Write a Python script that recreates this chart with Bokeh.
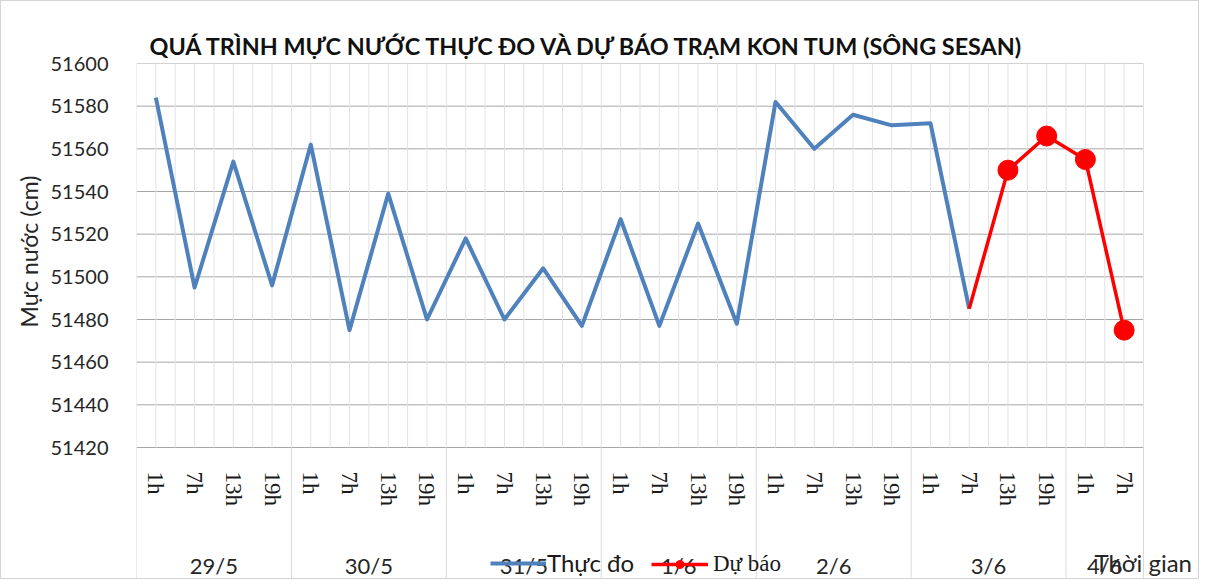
from bokeh.plotting import figure
from bokeh.models import Range1d, FixedTicker, LinearAxis, Legend, LegendItem, Label, Title
from bokeh.embed import file_html
from bokeh.resources import INLINE

# ---------------- data ----------------
days = ["29/5", "30/5", "31/5", "1/6", "2/6", "3/6", "4/6"]
hours_per_day = [["1h", "7h", "13h", "19h"]] * 6 + [["1h", "7h"]]

measured = [51584, 51495, 51554, 51496, 51562, 51475, 51539, 51480,
            51518, 51480, 51504, 51477, 51527, 51477, 51525, 51478,
            51582, 51560, 51576, 51571, 51572, 51485]
forecast = [51485, 51550, 51566, 51555, 51475]

y_ticks = [51420, 51440, 51460, 51480, 51500, 51520, 51540, 51560, 51580, 51600]

title_text = "QUÁ TRÌNH MỰC NƯỚC THỰC ĐO VÀ DỰ BÁO TRẠM KON TUM (SÔNG SESAN)"
y_label = "Mực nước (cm)"
x_label = "Thời gian"
measured_name = "Thực đo"
forecast_name = "Dự báo"

# ---------------- layout constants (pixels) ----------------
PLOT_W, PLOT_H = 1007, 384      # data area of the chart
FRAME_W, FRAME_H = 1062, 515    # frame incl. the area used by the time axis

# ---------------- derived ----------------
hour_labels = [h for hs in hours_per_day for h in hs]
n = len(hour_labels)
pos = list(range(n))                           # category centres
edges = [i - 0.5 for i in range(n + 1)]        # category edges
group_edges, group_centres = [-0.5], []
start = 0
for hs in hours_per_day:
    group_centres.append(start + (len(hs) - 1) / 2)
    start += len(hs)
    group_edges.append(start - 0.5)

measured_x = pos[:len(measured)]
forecast_x = pos[len(measured) - 1:len(measured) - 1 + len(forecast)]

y_lo, y_hi = y_ticks[0], y_ticks[-1]
y_start = y_hi - (y_hi - y_lo) * FRAME_H / PLOT_H
x_end = -0.5 + n * FRAME_W / PLOT_W

p = figure(frame_width=FRAME_W, frame_height=FRAME_H,
           x_range=Range1d(-0.5, x_end), y_range=Range1d(y_start, y_hi),
           output_backend="svg", toolbar_location=None,
           min_border_left=135, min_border_right=0,
           min_border_top=62, min_border_bottom=0)
p.styles = {"border": "1px solid #d4d4d4"}
p.outline_line_color = None
p.background_fill_color = "white"
p.border_fill_color = "white"
p.xgrid.visible = False
p.ygrid.visible = False

# title
p.title.text = title_text
p.title.align = "left"
p.title.offset = 13
p.title.text_font = "Lato"
p.title.text_font_size = "23.4px"
p.title.text_font_style = "bold"
p.title.text_color = "#111111"
p.title.standoff = 8

# grid lines
p.segment(x0=[edges[0]] * len(y_ticks), y0=y_ticks, x1=[edges[-1]] * len(y_ticks),
          y1=y_ticks, line_color="#a6a6a6", line_width=1)
p.segment(x0=pos, y0=[y_lo] * n, x1=pos, y1=[y_hi] * n,
          line_color="#e2e2e2", line_width=1)
p.segment(x0=edges, y0=[y_lo] * len(edges), x1=edges, y1=[y_hi] * len(edges),
          line_color="#e2e2e2", line_width=1)
p.segment(x0=group_edges, y0=[y_start] * len(group_edges), x1=group_edges,
          y1=[y_lo] * len(group_edges), line_color="#dadada", line_width=1)

# y axis
ya = p.yaxis[0]
ya.ticker = FixedTicker(ticks=y_ticks)
ya.axis_line_color = None
ya.major_tick_line_color = None
ya.minor_tick_line_color = None
ya.major_label_text_font = "Lato"
ya.major_label_text_font_size = "20px"
ya.major_label_text_color = "#262626"
ya.major_label_standoff = 22

# y axis title (left panel), placed beside the data area
p.add_layout(Title(text=y_label, align="left", offset=251, standoff=10,
                   text_font="Lato", text_font_size="23px",
                   text_font_style="normal", text_color="#262626"), "left")

# x axis: hours
xa = p.xaxis[0]
xa.ticker = FixedTicker(ticks=pos)
xa.major_label_overrides = {i: h for i, h in zip(pos, hour_labels)}
xa.fixed_location = y_lo
xa.axis_line_color = None
xa.major_tick_line_color = None
xa.minor_tick_line_color = None
xa.major_label_orientation = "vertical"
xa.major_label_text_font = "Liberation Serif"
xa.major_label_text_font_size = "23px"
xa.major_label_text_color = "#1a1a1a"
xa.major_label_standoff = 18

# x axis: days
xd = LinearAxis(ticker=FixedTicker(ticks=group_centres),
                major_label_overrides={c: d for c, d in zip(group_centres, days)},
                fixed_location=y_lo, axis_line_color=None,
                major_tick_line_color=None, minor_tick_line_color=None,
                major_label_standoff=98, major_label_text_font="Lato",
                major_label_text_font_size="22px", major_label_text_color="#262626")
p.add_layout(xd, "below")

# series
blue = p.line(x=measured_x, y=measured, line_color="#4f81bd", line_width=4,
              line_join="round")
red = p.line(x=forecast_x, y=forecast, line_color="#ff0000", line_width=3.5,
             line_join="round")
red_pts = p.scatter(x=forecast_x[1:], y=forecast[1:], size=20, marker="circle",
                    fill_color="#ff0000", line_color="#ff0000")

# legends
leg1 = Legend(items=[LegendItem(label=measured_name, renderers=[blue])],
              location=(354, 1), orientation="horizontal",
              border_line_color=None, background_fill_alpha=0,
              padding=0, margin=0, glyph_width=56, glyph_height=20,
              label_standoff=1, label_text_font="Lato",
              label_text_font_size="24px", label_text_color="#1a1a1a")
leg2 = Legend(items=[LegendItem(label=forecast_name, renderers=[red, red_pts])],
              location=(515, 1), orientation="horizontal",
              border_line_color=None, background_fill_alpha=0,
              padding=0, margin=0, glyph_width=57, glyph_height=20,
              label_standoff=5, label_text_font="Liberation Serif",
              label_text_font_size="23px", label_text_color="#1a1a1a")
p.add_layout(leg1)
p.add_layout(leg2)

p.add_layout(Label(x=958, y=16, x_units="screen", y_units="screen",
                   text=x_label, text_font="Lato", text_font_size="24px",
                   text_baseline="middle", text_color="#262626"))

open("out.html", "w").write(file_html(p, INLINE))
